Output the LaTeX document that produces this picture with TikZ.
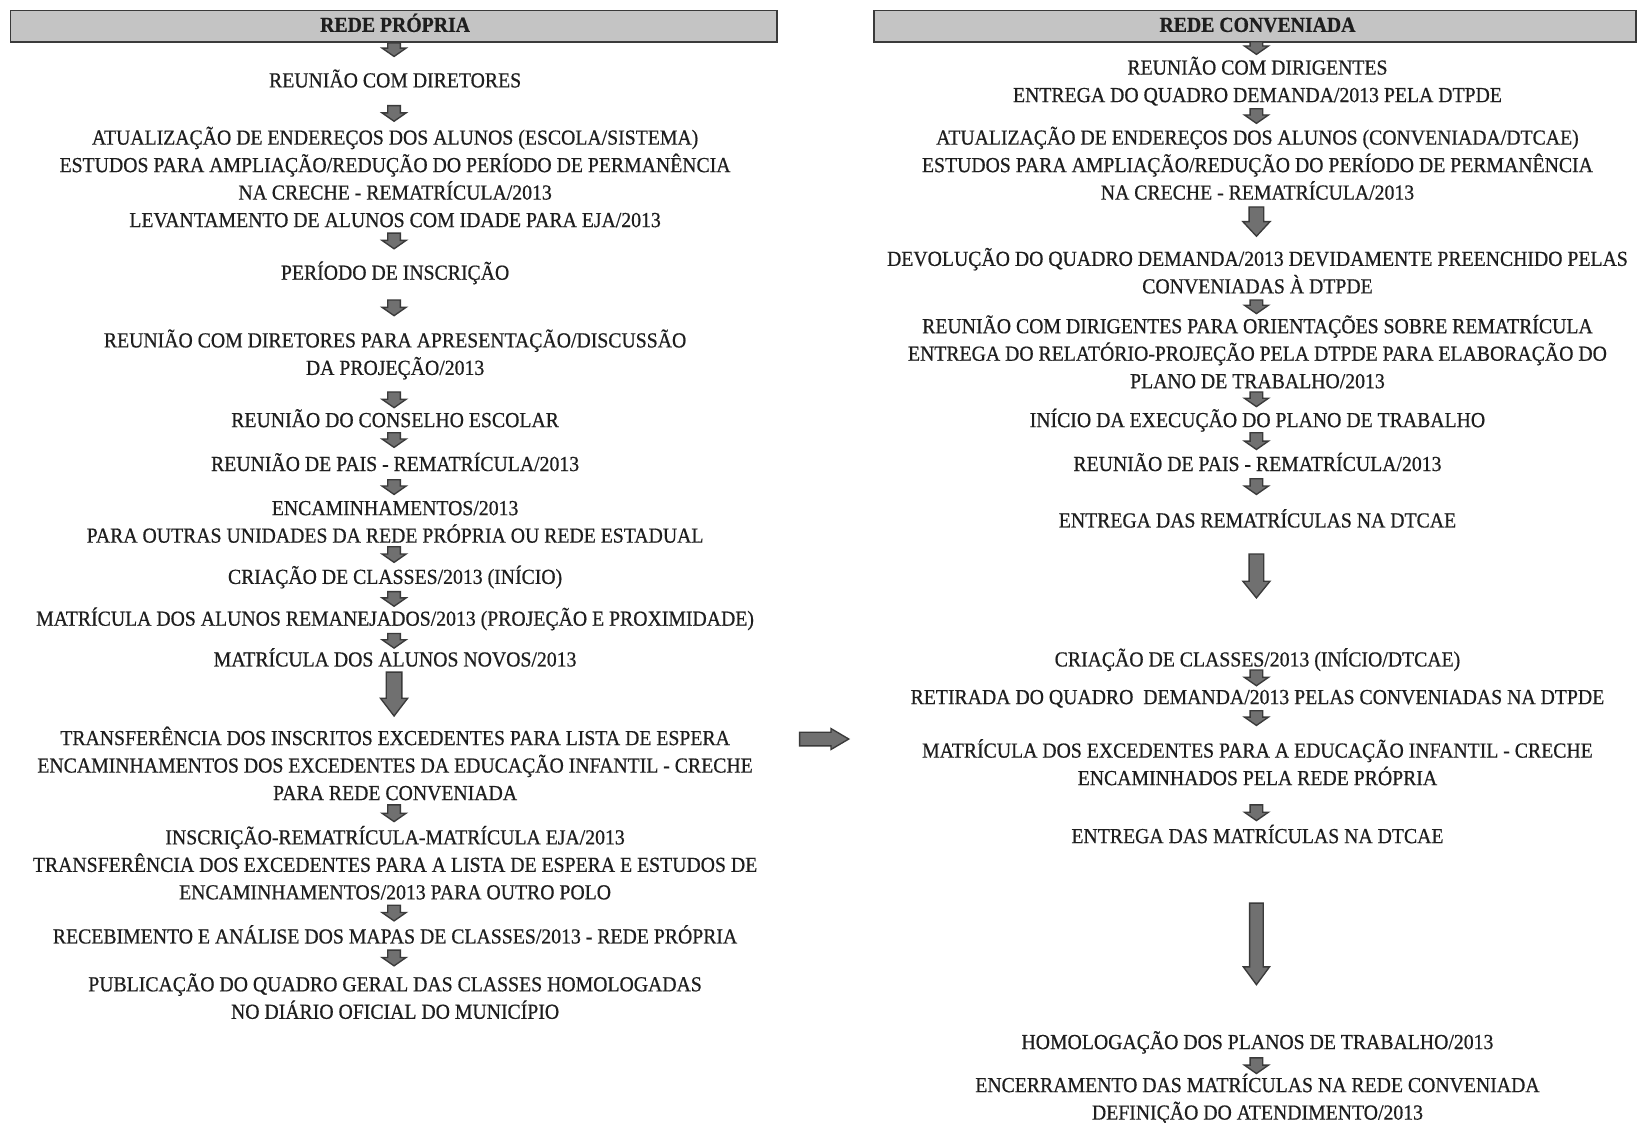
\documentclass[tikz,border=0pt]{standalone}
\usepackage{fontspec}
\setmainfont[FakeStretch=0.922,FakeBold=0.6]{Liberation Serif}
\definecolor{arrfill}{HTML}{707070}
\definecolor{arrdraw}{HTML}{3A3A3A}
\definecolor{hdrfill}{HTML}{C4C4C4}
\definecolor{txtc}{HTML}{1E1E1E}
\newcommand\varr[6]{% x, ytop, ybot, shaft width, head width, head height
  \filldraw[arrow shape] ({#1-#4/2},#2) -- ({#1+#4/2},#2) -- ({#1+#4/2},{#3-#6}) -- ({#1+#5/2},{#3-#6}) -- (#1,#3) -- ({#1-#5/2},{#3-#6}) -- ({#1-#4/2},{#3-#6}) -- cycle;}
\newcommand\sarr[3]{\varr{#1}{#2}{#3}{12}{23}{8}}
\begin{document}
\begin{tikzpicture}[x=1pt,y=-1pt,
  txt/.style={font=\fontsize{20.5}{26.3}\selectfont, text=txtc, inner sep=0pt, align=center, anchor=north, execute at begin node=\strut},
  hdr/.style={draw=arrdraw, line width=1.8pt, fill=hdrfill},
  hdrtxt/.style={font=\bfseries\fontsize{20.5}{24}\selectfont, text=txtc, inner sep=0pt, anchor=base},
  arrow shape/.style={fill=arrfill, draw=arrdraw, line width=1.3pt, line join=miter}]
\useasboundingbox[fill=white] (0,0) rectangle (1568,1074.3);
% headers
\draw[hdr] (10,10) rectangle (743,40);
\node[hdrtxt] (hL) at (378,30.5) {REDE PRÓPRIA};
\draw[hdr] (836,10) rectangle (1565,40);
\node[hdrtxt] (hR) at (1203,30.5) {REDE CONVENIADA};
% left column
\node[txt] (L1) at (378,65) {REUNIÃO COM DIRETORES};
\node[txt] (L2) at (378,121) {ATUALIZAÇÃO DE ENDEREÇOS DOS ALUNOS (ESCOLA/SISTEMA)\\ESTUDOS PARA AMPLIAÇÃO/REDUÇÃO DO PERÍODO DE PERMANÊNCIA\\NA CRECHE - REMATRÍCULA/2013\\LEVANTAMENTO DE ALUNOS COM IDADE PARA EJA/2013};
\node[txt] (L3) at (378,249) {PERÍODO DE INSCRIÇÃO};
\node[txt] (L4) at (378,315) {REUNIÃO COM DIRETORES PARA APRESENTAÇÃO/DISCUSSÃO\\DA PROJEÇÃO/2013};
\node[txt] (L5) at (378,390) {REUNIÃO DO CONSELHO ESCOLAR};
\node[txt] (L6) at (378,432) {REUNIÃO DE PAIS - REMATRÍCULA/2013};
\node[txt] (L7) at (378,479) {ENCAMINHAMENTOS/2013\\PARA OUTRAS UNIDADES DA REDE PRÓPRIA OU REDE ESTADUAL};
\node[txt] (L8) at (378,540) {CRIAÇÃO DE CLASSES/2013 (INÍCIO)};
\node[txt] (L9) at (378,580) {MATRÍCULA DOS ALUNOS REMANEJADOS/2013 (PROJEÇÃO E PROXIMIDADE)};
\node[txt] (L10) at (378,619) {MATRÍCULA DOS ALUNOS NOVOS/2013};
\node[txt] (L11) at (378,695) {TRANSFERÊNCIA DOS INSCRITOS EXCEDENTES PARA LISTA DE ESPERA\\ENCAMINHAMENTOS DOS EXCEDENTES DA EDUCAÇÃO INFANTIL - CRECHE\\PARA REDE CONVENIADA};
\node[txt] (L12) at (378,790) {INSCRIÇÃO-REMATRÍCULA-MATRÍCULA EJA/2013\\TRANSFERÊNCIA DOS EXCEDENTES PARA A LISTA DE ESPERA E ESTUDOS DE\\ENCAMINHAMENTOS/2013 PARA OUTRO POLO};
\node[txt] (L13) at (378,884) {RECEBIMENTO E ANÁLISE DOS MAPAS DE CLASSES/2013 - REDE PRÓPRIA};
\node[txt] (L14) at (378,931) {PUBLICAÇÃO DO QUADRO GERAL DAS CLASSES HOMOLOGADAS\\NO DIÁRIO OFICIAL DO MUNICÍPIO};
% right column
\node[txt] (R1) at (1203,54) {REUNIÃO COM DIRIGENTES\\ENTREGA DO QUADRO DEMANDA/2013 PELA DTPDE};
\node[txt] (R2) at (1203,121) {ATUALIZAÇÃO DE ENDEREÇOS DOS ALUNOS (CONVENIADA/DTCAE)\\ESTUDOS PARA AMPLIAÇÃO/REDUÇÃO DO PERÍODO DE PERMANÊNCIA\\NA CRECHE - REMATRÍCULA/2013};
\node[txt] (R3) at (1203,237) {DEVOLUÇÃO DO QUADRO DEMANDA/2013 DEVIDAMENTE PREENCHIDO PELAS\\CONVENIADAS À DTPDE};
\node[txt] (R4) at (1203,301) {REUNIÃO COM DIRIGENTES PARA ORIENTAÇÕES SOBRE REMATRÍCULA\\ENTREGA DO RELATÓRIO-PROJEÇÃO PELA DTPDE PARA ELABORAÇÃO DO\\PLANO DE TRABALHO/2013};
\node[txt] (R5) at (1203,390) {INÍCIO DA EXECUÇÃO DO PLANO DE TRABALHO};
\node[txt] (R6) at (1203,432) {REUNIÃO DE PAIS - REMATRÍCULA/2013};
\node[txt] (R7) at (1203,486) {ENTREGA DAS REMATRÍCULAS NA DTCAE};
\node[txt] (R8) at (1203,619) {CRIAÇÃO DE CLASSES/2013 (INÍCIO/DTCAE)};
\node[txt] (R9) at (1203,655) {RETIRADA DO QUADRO \ DEMANDA/2013 PELAS CONVENIADAS NA DTPDE};
\node[txt] (R10) at (1203,707) {MATRÍCULA DOS EXCEDENTES PARA A EDUCAÇÃO INFANTIL - CRECHE\\ENCAMINHADOS PELA REDE PRÓPRIA};
\node[txt] (R11) at (1203,788) {ENTREGA DAS MATRÍCULAS NA DTCAE};
\node[txt] (R12) at (1203,985) {HOMOLOGAÇÃO DOS PLANOS DE TRABALHO/2013};
\node[txt] (R13) at (1203,1027) {ENCERRAMENTO DAS MATRÍCULAS NA REDE CONVENIADA\\DEFINIÇÃO DO ATENDIMENTO/2013};
% left arrows
\sarr{377}{41}{54}
\sarr{377}{101}{116}
\sarr{377}{223}{238}
\sarr{377}{287}{302}
\sarr{377}{375}{390}
\sarr{377}{414}{428}
\sarr{377}{459}{473}
\sarr{377}{523}{538}
\sarr{377}{566}{580}
\sarr{377}{606}{620}
\varr{377}{643}{685}{15}{26}{17}
\sarr{377}{770}{786}
\sarr{377}{866}{881}
\sarr{377}{909}{924}
% right arrows
\sarr{1202}{40}{52}
\sarr{1202}{104}{118}
\varr{1202}{198}{226}{14}{26}{14}
\sarr{1202}{287}{300}
\sarr{1202}{375}{389}
\sarr{1202}{414}{430}
\sarr{1202}{458}{473}
\varr{1202}{530}{572}{14}{26}{16}
\sarr{1202}{641}{656}
\sarr{1202}{680}{694}
\sarr{1202}{770}{785}
\varr{1202}{864}{942}{13}{25}{17}
\sarr{1202}{1012}{1027}
% horizontal arrow
\filldraw[arrow shape] (765,700.5) -- (795,700.5) -- (795,697) -- (812,707) -- (795,717) -- (795,713.5) -- (765,713.5) -- cycle;
\end{tikzpicture}
\end{document}
